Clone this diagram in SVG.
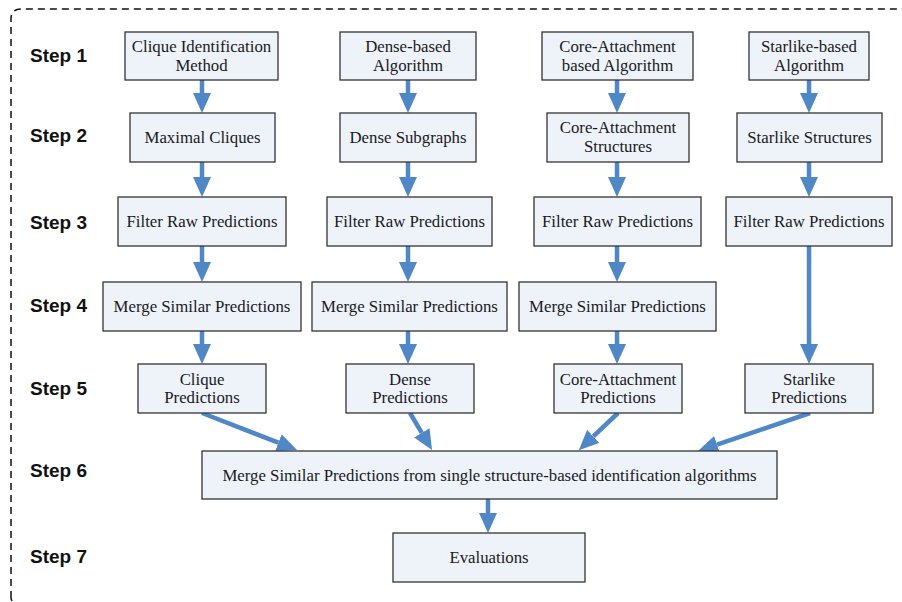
<svg xmlns="http://www.w3.org/2000/svg" width="902" height="602" viewBox="0 0 902 602">
<defs>
<style>
.box{fill:#EEF3FA;stroke:#333333;stroke-width:1.3}
.t{font-family:"Liberation Serif","Times New Roman",serif;font-size:16.8px;fill:#1a1a1a;text-anchor:middle}
.step{font-family:"Liberation Sans",Arial,sans-serif;font-size:19px;font-weight:bold;fill:#111}
.c{stroke:#5087C7;stroke-width:4.5;fill:none;marker-end:url(#ah)}
</style>
<marker id="ah" markerUnits="userSpaceOnUse" markerWidth="21" markerHeight="18" refX="0" refY="9" orient="auto">
<path d="M0,0 L20,9 L0,18 z" fill="#5087C7"/>
</marker>
</defs>
<rect width="902" height="602" fill="#ffffff"/>
<path d="M11,598 Q11,599 12,601 M11,598 L11,19 Q11,9 21,9 L902,9" fill="none" stroke="#111" stroke-width="1.5" stroke-dasharray="7,5"/>

<g id="step-labels">
<text class="step" x="30" y="62">Step 1</text>
<text class="step" x="30" y="142">Step 2</text>
<text class="step" x="30" y="229">Step 3</text>
<text class="step" x="30" y="312">Step 4</text>
<text class="step" x="30" y="395">Step 5</text>
<text class="step" x="30" y="477">Step 6</text>
<text class="step" x="30" y="563">Step 7</text>
</g>

<g id="connectors">
<line class="c" x1="202" y1="80" x2="202" y2="93"/>
<line class="c" x1="202" y1="162" x2="202" y2="177"/>
<line class="c" x1="202" y1="246" x2="202" y2="262"/>
<line class="c" x1="202" y1="331" x2="202" y2="344"/>
<line class="c" x1="408" y1="80" x2="408" y2="93"/>
<line class="c" x1="408" y1="162" x2="408" y2="177"/>
<line class="c" x1="408" y1="246" x2="408" y2="262"/>
<line class="c" x1="408" y1="331" x2="408" y2="344"/>
<line class="c" x1="617" y1="80" x2="617" y2="93"/>
<line class="c" x1="617" y1="162" x2="617" y2="177"/>
<line class="c" x1="617" y1="246" x2="617" y2="262"/>
<line class="c" x1="617" y1="331" x2="617" y2="344"/>
<line class="c" x1="809" y1="80" x2="809" y2="93"/>
<line class="c" x1="809" y1="162" x2="809" y2="177"/>
<line class="c" x1="809" y1="246" x2="809" y2="344"/>
<line class="c" x1="202" y1="413" x2="278.4" y2="442.7"/>
<line class="c" x1="410" y1="413" x2="421.8" y2="432.8"/>
<line class="c" x1="618" y1="413" x2="593.3" y2="436.4"/>
<line class="c" x1="810" y1="413" x2="717" y2="444.6"/>
<line class="c" x1="488" y1="499" x2="488" y2="513"/>
</g>

<g id="n-clique-method"><rect class="box" x="125" y="32" width="153" height="48"/><text class="t" x="201.5" y="52">Clique Identification</text><text class="t" x="201.5" y="71">Method</text></g>
<g id="n-dense-alg"><rect class="box" x="340" y="32" width="136" height="48"/><text class="t" x="408" y="52">Dense-based</text><text class="t" x="408" y="71">Algorithm</text></g>
<g id="n-core-alg"><rect class="box" x="542" y="32" width="151" height="48"/><text class="t" x="617.5" y="52">Core-Attachment</text><text class="t" x="617.5" y="71">based Algorithm</text></g>
<g id="n-star-alg"><rect class="box" x="749" y="32" width="120" height="48"/><text class="t" x="809" y="52">Starlike-based</text><text class="t" x="809" y="71">Algorithm</text></g>

<g id="n-maximal"><rect class="box" x="130" y="113" width="145" height="49"/><text class="t" x="202.5" y="143">Maximal Cliques</text></g>
<g id="n-dense-sub"><rect class="box" x="340" y="113" width="136" height="49"/><text class="t" x="408" y="143">Dense Subgraphs</text></g>
<g id="n-core-struct"><rect class="box" x="547" y="113" width="142" height="49"/><text class="t" x="618" y="133">Core-Attachment</text><text class="t" x="618" y="152">Structures</text></g>
<g id="n-star-struct"><rect class="box" x="737" y="113" width="145" height="49"/><text class="t" x="809.5" y="143">Starlike Structures</text></g>

<g id="n-filter1"><rect class="box" x="118" y="197" width="168" height="49"/><text class="t" x="202" y="227">Filter Raw Predictions</text></g>
<g id="n-filter2"><rect class="box" x="327" y="197" width="165" height="49"/><text class="t" x="409.5" y="227">Filter Raw Predictions</text></g>
<g id="n-filter3"><rect class="box" x="534" y="197" width="167" height="49"/><text class="t" x="617.5" y="227">Filter Raw Predictions</text></g>
<g id="n-filter4"><rect class="box" x="726" y="197" width="166" height="49"/><text class="t" x="809" y="227">Filter Raw Predictions</text></g>

<g id="n-merge1"><rect class="box" x="103" y="282" width="198" height="49"/><text class="t" x="202" y="312">Merge Similar Predictions</text></g>
<g id="n-merge2"><rect class="box" x="312" y="282" width="195" height="49"/><text class="t" x="409.5" y="312">Merge Similar Predictions</text></g>
<g id="n-merge3"><rect class="box" x="519" y="282" width="197" height="49"/><text class="t" x="617.5" y="312">Merge Similar Predictions</text></g>

<g id="n-clique-pred"><rect class="box" x="138" y="364" width="128" height="49"/><text class="t" x="202" y="385">Clique</text><text class="t" x="202" y="403">Predictions</text></g>
<g id="n-dense-pred"><rect class="box" x="346" y="364" width="128" height="49"/><text class="t" x="410" y="385">Dense</text><text class="t" x="410" y="403">Predictions</text></g>
<g id="n-core-pred"><rect class="box" x="554" y="364" width="128" height="49"/><text class="t" x="618" y="385">Core-Attachment</text><text class="t" x="618" y="403">Predictions</text></g>
<g id="n-star-pred"><rect class="box" x="745" y="364" width="128" height="49"/><text class="t" x="809" y="385">Starlike</text><text class="t" x="809" y="403">Predictions</text></g>

<g id="n-merge-all"><rect class="box" x="202" y="451" width="575" height="48"/><text class="t" x="489.5" y="481">Merge Similar Predictions from single structure-based identification algorithms</text></g>
<g id="n-eval"><rect class="box" x="393" y="533" width="192" height="49"/><text class="t" x="489" y="563">Evaluations</text></g>
</svg>
